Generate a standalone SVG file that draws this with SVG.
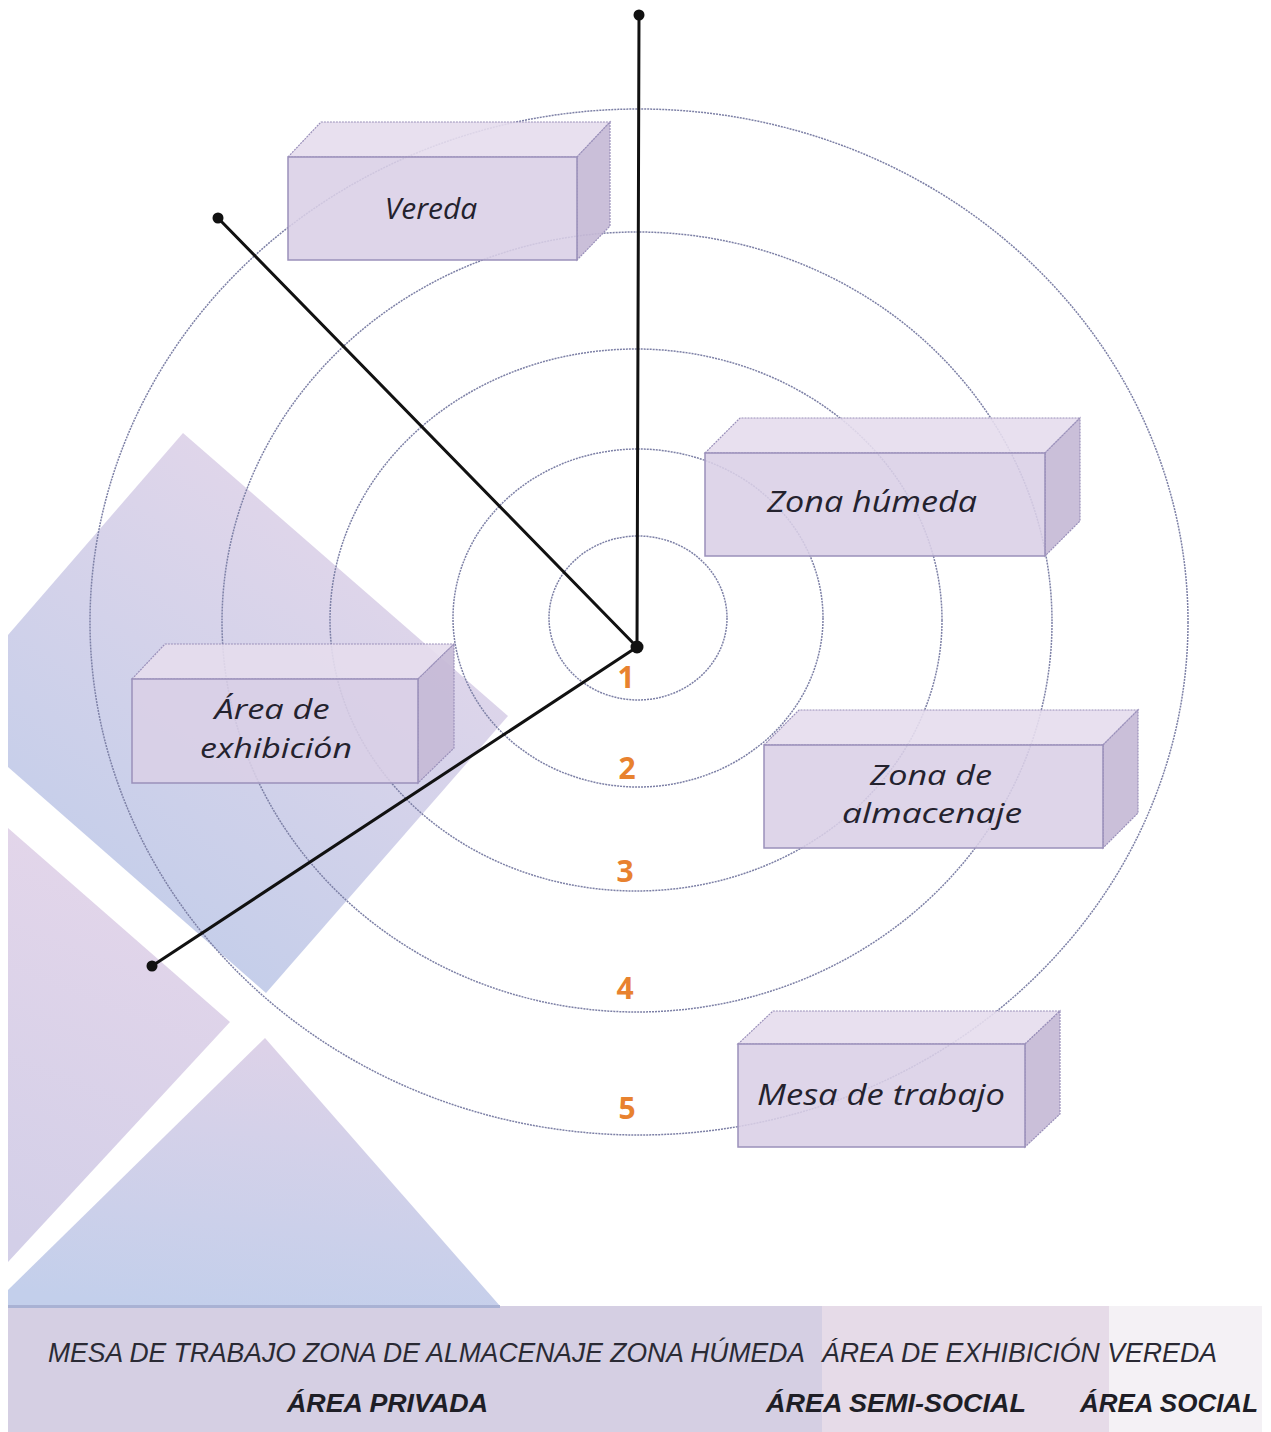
<svg xmlns="http://www.w3.org/2000/svg" width="1271" height="1432" viewBox="0 0 1271 1432">
<defs>
<linearGradient id="gDiamond" x1="0.75" y1="0.05" x2="0.2" y2="0.95">
<stop offset="0" stop-color="#e5d7ea"/>
<stop offset="1" stop-color="#c1cdea"/>
</linearGradient>
<linearGradient id="gTri2" x1="0.5" y1="0" x2="0.3" y2="1">
<stop offset="0" stop-color="#e4d6ea"/>
<stop offset="1" stop-color="#d3cfe8"/>
</linearGradient>
<linearGradient id="gTri3" x1="0.5" y1="0" x2="0.3" y2="1">
<stop offset="0" stop-color="#ddd2e8"/>
<stop offset="1" stop-color="#c3cfeb"/>
</linearGradient>
<style>
.ring{fill:none;stroke:#7d80a6;stroke-width:1.5;stroke-dasharray:2 1}
.conn{stroke:#111;stroke-width:3;fill:none;stroke-linecap:round}
.dot{fill:#111}
.front{fill:#d9cfe6;fill-opacity:0.88;stroke:#9a90ba;stroke-width:1.5}
.top{fill:#e5dded;fill-opacity:0.9;stroke:#9a90ba;stroke-width:1.2;stroke-dasharray:2 1}
.side{fill:#c6bad6;fill-opacity:0.92;stroke:#9a90ba;stroke-width:1.2;stroke-dasharray:2 1}
.lbl{font-family:"Open Sans","Noto Sans","DejaVu Sans",sans-serif;font-style:italic;font-size:30px;fill:#24222e;text-anchor:middle}
.lbl2{font-family:"Open Sans","Noto Sans","DejaVu Sans",sans-serif;font-style:italic;font-size:27.5px;fill:#24222e;text-anchor:middle}
.num{font-family:"Open Sans","Noto Sans","DejaVu Sans",sans-serif;font-weight:bold;font-size:30px;fill:#e8822f;text-anchor:middle}
.band{font-family:"Liberation Sans","Arial",sans-serif;font-style:italic;font-size:27px;fill:#2a2a34}
.bandb{font-family:"Liberation Sans","Arial",sans-serif;font-style:italic;font-weight:bold;font-size:26px;fill:#1e1e26}
</style>
</defs>
<rect width="1271" height="1432" fill="#ffffff"/>

<g id="background">
<polygon points="183,433 508,716 266,993 8,767 8,635" fill="url(#gDiamond)"/>
<polygon points="8,828 230,1022 8,1262" fill="url(#gTri2)"/>
<polygon points="265,1038 500,1306 8,1306 8,1290" fill="url(#gTri3)"/>
</g>

<g id="band">
<rect x="8" y="1306" width="814" height="126" fill="#d5cfe3"/>
<rect x="822" y="1306" width="287" height="126" fill="#e6dbe8"/>
<rect x="1109" y="1306" width="153" height="126" fill="#f4f1f5"/>
<line x1="8" y1="1306.5" x2="500" y2="1306.5" stroke="#a9b2d4" stroke-width="3"/>
<text class="band" x="48" y="1362" textLength="757" lengthAdjust="spacingAndGlyphs">MESA DE TRABAJO ZONA DE ALMACENAJE ZONA HÚMEDA</text>
<text class="band" x="822" y="1362" textLength="395" lengthAdjust="spacingAndGlyphs">ÁREA DE EXHIBICIÓN VEREDA</text>
<text class="bandb" x="287" y="1412" textLength="201" lengthAdjust="spacingAndGlyphs">ÁREA PRIVADA</text>
<text class="bandb" x="766" y="1412" textLength="260" lengthAdjust="spacingAndGlyphs">ÁREA SEMI-SOCIAL</text>
<text class="bandb" x="1080" y="1412" textLength="178" lengthAdjust="spacingAndGlyphs">ÁREA SOCIAL</text>
</g>

<g id="rings">
<ellipse class="ring" cx="638" cy="618" rx="89" ry="82"/>
<ellipse class="ring" cx="638" cy="618" rx="185" ry="169"/>
<ellipse class="ring" cx="636" cy="620" rx="306" ry="271"/>
<ellipse class="ring" cx="637" cy="622" rx="415" ry="390"/>
<ellipse class="ring" cx="639" cy="622" rx="549" ry="513"/>
</g>

<g id="ring-numbers">
<text class="num" x="626" y="688">1</text>
<text class="num" x="627" y="779">2</text>
<text class="num" x="625" y="882">3</text>
<text class="num" x="625" y="999">4</text>
<text class="num" x="627" y="1119">5</text>
</g>

<g id="connectors">
<line class="conn" x1="637" y1="647" x2="639" y2="15"/>
<line class="conn" x1="637" y1="647" x2="218" y2="218"/>
<line class="conn" x1="637" y1="647" x2="152" y2="966"/>
<circle class="dot" cx="637" cy="647" r="6.5"/>
<circle class="dot" cx="639" cy="15" r="5.5"/>
<circle class="dot" cx="218" cy="218" r="5.5"/>
<circle class="dot" cx="152" cy="966" r="5.5"/>
</g>

<g id="node-vereda">
<polygon class="top" points="288,157 321,122 610,122 577,157"/>
<polygon class="side" points="577,157 610,122 610,226 577,260"/>
<rect class="front" x="288" y="157" width="289" height="103"/>
<text class="lbl" x="431" y="219">Vereda</text>
</g>

<g id="node-zona-humeda">
<polygon class="top" points="705,453 740,418 1080,418 1045,453"/>
<polygon class="side" points="1045,453 1080,418 1080,521 1045,556"/>
<rect class="front" x="705" y="453" width="340" height="103"/>
<text class="lbl" x="872" y="512" textLength="210" lengthAdjust="spacingAndGlyphs">Zona húmeda</text>
</g>

<g id="node-almacenaje">
<polygon class="top" points="764,745 799,710 1138,710 1103,745"/>
<polygon class="side" points="1103,745 1138,710 1138,813 1103,848"/>
<rect class="front" x="764" y="745" width="339" height="103"/>
<text class="lbl2" x="931" y="785" textLength="122" lengthAdjust="spacingAndGlyphs">Zona de</text>
<text class="lbl2" x="932" y="823" textLength="180" lengthAdjust="spacingAndGlyphs">almacenaje</text>
</g>

<g id="node-mesa">
<polygon class="top" points="738,1044 773,1011 1060,1011 1025,1044"/>
<polygon class="side" points="1025,1044 1060,1011 1060,1114 1025,1147"/>
<rect class="front" x="738" y="1044" width="287" height="103"/>
<text class="lbl" x="881" y="1105" textLength="248" lengthAdjust="spacingAndGlyphs">Mesa de trabajo</text>
</g>

<g id="node-exhibicion">
<polygon class="top" points="132,679 165,644 454,644 418,679"/>
<polygon class="side" points="418,679 454,644 454,748 418,783"/>
<rect class="front" x="132" y="679" width="286" height="104"/>
<text class="lbl2" x="272" y="719" textLength="115" lengthAdjust="spacingAndGlyphs">Área de</text>
<text class="lbl2" x="276" y="758" textLength="152" lengthAdjust="spacingAndGlyphs">exhibición</text>
</g>
</svg>
